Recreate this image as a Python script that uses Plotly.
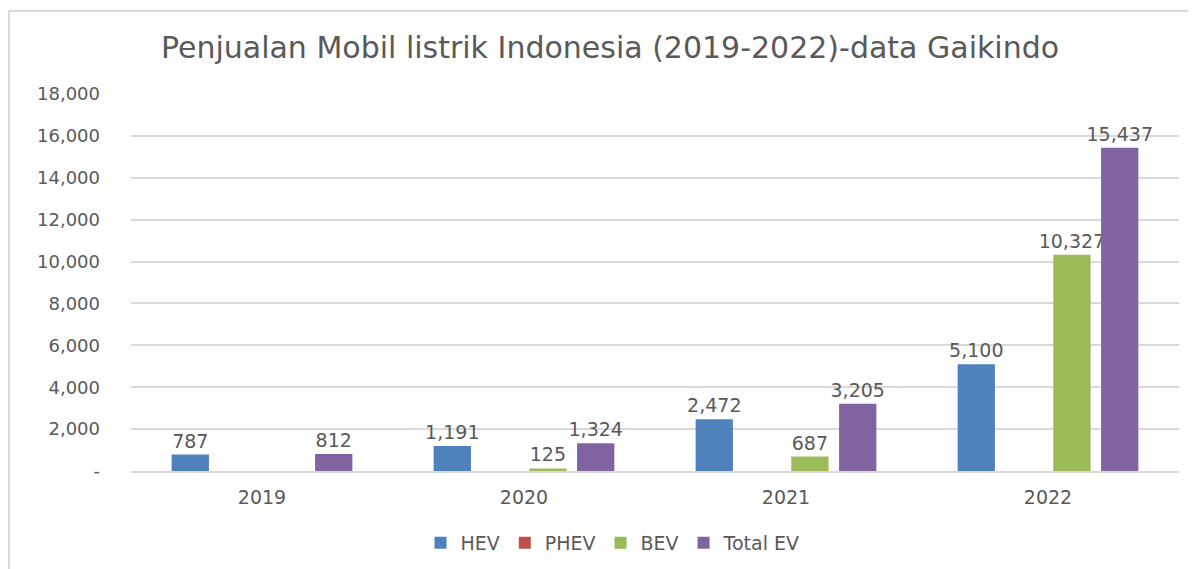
import plotly.graph_objects as go

years = ["2019", "2020", "2021", "2022"]
hev = [787, 1191, 2472, 5100]
phev = [None, None, None, None]
bev = [None, 125, 687, 10327]
total_ev = [812, 1324, 3205, 15437]

series = [
    ("HEV", hev, "#4f81bd"),
    ("PHEV", phev, "#c0504d"),
    ("BEV", bev, "#9bbb59"),
    ("Total EV", total_ev, "#8064a2"),
]

tick_vals = [0, 2000, 4000, 6000, 8000, 10000, 12000, 14000, 16000, 18000]
tick_text = ["-", "2,000", "4,000", "6,000", "8,000", "10,000", "12,000", "14,000", "16,000", "18,000"]

FONT = "DejaVu Sans"
GREY = "#595959"

# page has an 8px body margin; work in figure coordinates = reference px - 8
OFF = 8
W, H = 1196 - OFF, 569 - OFF
L, R = 131 - OFF, W - (1179 - OFF)
T, B = 94 - OFF, H - (471 - OFF)

def px_x(p):
    return (p - OFF - L) / (W - L - R)

def px_y(p):
    return (H - B - (p - OFF)) / (H - T - B)

fig = go.Figure()
for name, vals, color in series:
    fig.add_trace(go.Bar(
        x=years, y=vals, name=name,
        marker=dict(color=color, line=dict(width=0)),
        text=[f"{v:,}" if v is not None else "" for v in vals],
        textposition="outside",
        constraintext="none",
        cliponaxis=False,
        textfont=dict(family=FONT, size=19, color=GREY),
    ))

fig.update_layout(
    width=W, height=H,
    margin=dict(l=L, r=R, t=T, b=B, pad=0),
    paper_bgcolor="white", plot_bgcolor="white",
    barmode="group", bargap=0.27, bargroupgap=0.22,
    title=dict(text="Penjualan Mobil listrik Indonesia (2019-2022)-data Gaikindo",
               x=(610 - OFF) / W, xanchor="center", y=1 - (47 - OFF) / H, yanchor="middle",
               font=dict(family=FONT, size=30, color=GREY)),
    font=dict(family=FONT, color=GREY),
    showlegend=True,
    legend=dict(orientation="h", x=(613 - OFF) / W, xref="container", xanchor="center",
                y=1 - (543 - OFF) / H, yref="container",
                yanchor="middle", font=dict(family=FONT, size=19, color=GREY),
                itemwidth=30, traceorder="normal"),
)
fig.update_xaxes(showgrid=False, showline=True, linecolor="#d9d9d9", linewidth=2,
                 ticks="", ticklabelstandoff=8,
                 tickfont=dict(family=FONT, size=19, color=GREY))
fig.update_yaxes(range=[0, 18000], tickvals=tick_vals, ticktext=tick_text,
                 showgrid=True, gridcolor="#d9d9d9", gridwidth=1.5, zeroline=False,
                 showline=False, ticks="", ticklabelstandoff=30,
                 tickfont=dict(family=FONT, size=18, color=GREY))

fig.add_shape(type="rect", xref="paper", yref="paper",
              x0=px_x(9), x1=px_x(1215), y0=px_y(600), y1=px_y(11),
              line=dict(color="#d9d9d9", width=2), fillcolor="rgba(0,0,0,0)", layer="below")

fig.write_html("out.html")
